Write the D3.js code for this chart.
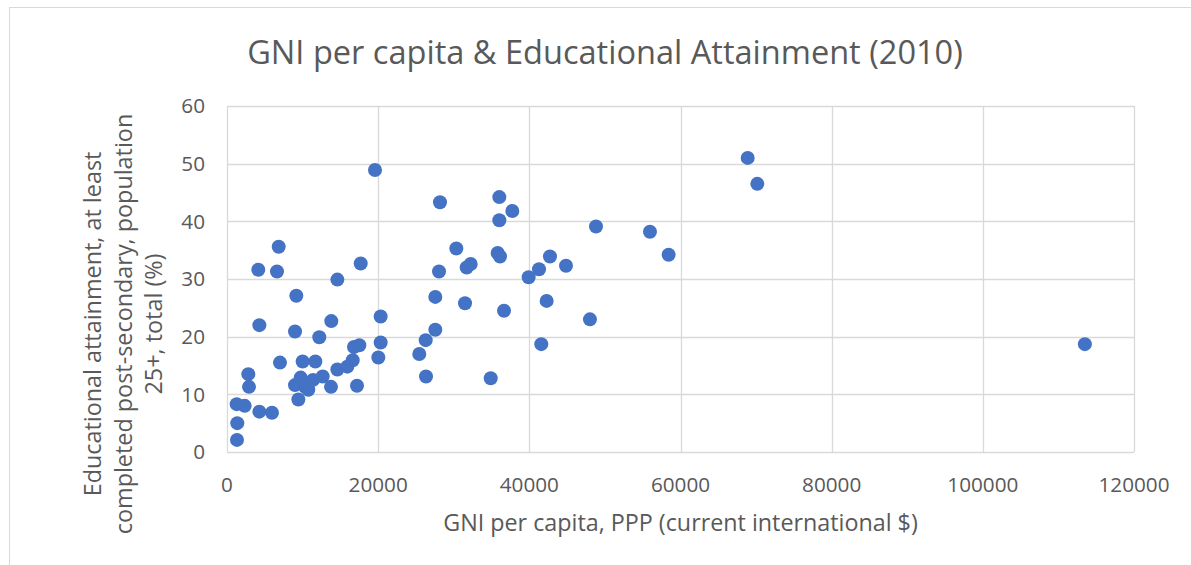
<!DOCTYPE html>
<html>
<head>
<meta charset="utf-8">
<script src="https://cdn.jsdelivr.net/npm/d3@7"></script>
<style>
  body { margin: 0; background: #fff; }
  text { font-family: "Open Sans", sans-serif; fill: #595959; }
</style>
</head>
<body>
<div id="chart"></div>
<script>
// GNI per capita, PPP (current international $)
const gni = [1320, 1360, 1280, 2340, 4280, 5950, 2820, 2910, 4280, 4140,
    6615, 6840, 7010, 9170, 9000, 10010, 11690, 9750, 9000, 10320,
    10760, 9440, 11380, 12660, 12210, 13800, 13760, 14600, 14600, 15920,
    16630, 16800, 17510, 17200, 17690, 19580, 20020, 20330, 20330, 25440,
    26290, 26330, 27560, 27560, 28050, 28180, 30340, 31490, 31710, 32240,
    34890, 35810, 36120, 36030, 36030, 36650, 37750, 39910, 41280, 41580,
    42290, 42730, 44850, 48020, 48820, 55960, 58430, 68890, 70160, 113500];
// educational attainment, post-secondary, 25+ (%)
const edu = [2.1, 5.0, 8.3, 8.0, 7.0, 6.8, 13.5, 11.3, 22.0, 31.6,
    31.3, 35.6, 15.5, 27.1, 20.9, 15.7, 15.7, 12.9, 11.6, 11.3,
    10.8, 9.1, 12.5, 13.1, 19.9, 22.7, 11.3, 14.3, 29.9, 14.8,
    15.9, 18.2, 18.5, 11.5, 32.7, 48.9, 16.4, 19.0, 23.5, 17.0,
    19.4, 13.1, 21.2, 26.9, 31.3, 43.3, 35.3, 25.8, 32.0, 32.6,
    12.8, 34.5, 33.9, 40.2, 44.2, 24.5, 41.8, 30.3, 31.7, 18.7,
    26.2, 33.9, 32.3, 23.0, 39.1, 38.2, 34.2, 51.0, 46.5, 18.7];

const xTicks = [0, 20000, 40000, 60000, 80000, 100000, 120000];
const yTicks = [0, 10, 20, 30, 40, 50, 60];

const chartTitle = "GNI per capita & Educational Attainment (2010)";
const xTitle = "GNI per capita, PPP (current international $)";
const yTitleLines = ["Educational attainment, at least",
    "completed post-secondary, population",
    "25+, total (%)"];

const W = 1191, H = 565;
const plotL = 227, plotR = 1134, plotT = 106, plotB = 452;

const svg = d3.select("#chart").append("svg")
    .attr("width", W).attr("height", H);

// chart frame
svg.append("rect")
    .attr("x", 9.5).attr("y", 7.5)
    .attr("width", W + 20).attr("height", H + 20)
    .attr("fill", "none").attr("stroke", "#d9d9d9");

const x = d3.scaleLinear().domain([0, 120000]).range([plotL, plotR]);
const y = d3.scaleLinear().domain([0, 60]).range([plotB, plotT]);

// scale font so text hits a given width
function fit(sel, width) {
    const len = sel.node().getComputedTextLength();
    const fs = parseFloat(sel.attr("font-size"));
    sel.attr("font-size", fs * width / len);
}

// gridlines
svg.append("g").selectAll("line")
    .data(xTicks).join("line")
    .attr("x1", d => Math.round(x(d)) + 0.5).attr("x2", d => Math.round(x(d)) + 0.5)
    .attr("y1", plotT).attr("y2", plotB)
    .attr("stroke", "#d9d9d9").attr("stroke-width", 1.3);

svg.append("g").selectAll("line")
    .data(yTicks).join("line")
    .attr("x1", plotL).attr("x2", plotR)
    .attr("y1", d => Math.round(y(d)) + 0.5).attr("y2", d => Math.round(y(d)) + 0.5)
    .attr("stroke", "#d9d9d9").attr("stroke-width", 1.3);

// tick labels
const xl = svg.append("g").selectAll("text")
    .data(xTicks).join("text")
    .attr("x", d => x(d)).attr("y", 492)
    .attr("text-anchor", "middle")
    .attr("font-size", 20)
    .text(d => d);
const probe = xl.filter(d => d === 120000);
fit(probe, 71);
const tickFs = probe.attr("font-size");
xl.attr("font-size", tickFs);

svg.append("g").selectAll("text")
    .data(yTicks).join("text")
    .attr("x", 205).attr("y", d => y(d))
    .attr("dy", "0.36em")
    .attr("text-anchor", "end")
    .attr("font-size", tickFs)
    .text(d => d);

// points
svg.append("g").selectAll("circle")
    .data(gni.map((g, i) => [g, edu[i]]))
    .join("circle")
    .attr("cx", d => x(d[0])).attr("cy", d => y(d[1]))
    .attr("r", 7)
    .attr("fill", "#4472c4");

// titles
const t = svg.append("text")
    .attr("x", 605).attr("y", 64)
    .attr("text-anchor", "middle")
    .attr("font-size", 28)
    .text(chartTitle);
fit(t, 716);

const xt = svg.append("text")
    .attr("x", (plotL + plotR) / 2).attr("y", 531)
    .attr("text-anchor", "middle")
    .attr("font-size", 20)
    .text(xTitle);
fit(xt, 475);

const yt = svg.append("g").attr("transform", "translate(0,324) rotate(-90)");
const yLines = yt.selectAll("text")
    .data(yTitleLines).join("text")
    .attr("x", 0).attr("y", (d, i) => 101 + i * 30.5)
    .attr("text-anchor", "middle")
    .attr("font-size", 20)
    .text(d => d);
const first = yLines.filter((d, i) => i === 0);
fit(first, 345);
yLines.attr("font-size", first.attr("font-size"));
</script>
</body>
</html>
